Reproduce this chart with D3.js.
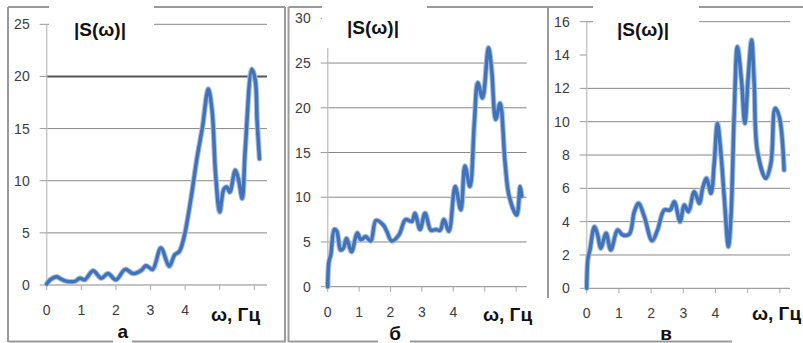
<!DOCTYPE html>
<html>
<head>
<meta charset="utf-8">
<script src="https://cdn.jsdelivr.net/npm/d3@7"></script>
<style>
  body { margin: 0; background: #fff; }
  svg { display: block; }
</style>
</head>
<body>
<svg id="chart" width="803" height="343"></svg>
<script>
// spectrum |S(w)| for three cases
const freqA = [0, 0.1, 0.29, 0.38, 0.53, 0.81, 0.96, 1.1, 1.34, 1.58, 1.77, 2.0, 2.27, 2.49, 2.73, 2.87, 3.06, 3.3, 3.54, 3.7, 3.83, 3.97, 4.16, 4.35, 4.5, 4.67, 4.78, 4.88, 5.0, 5.12, 5.2, 5.29, 5.45, 5.55, 5.65, 5.74, 5.93, 6.03, 6.08, 6.15];
const ampA  = [0.1, 0.5, 0.8, 0.64, 0.4, 0.35, 0.64, 0.5, 1.37, 0.64, 1.1, 0.5, 1.5, 1.1, 1.4, 1.85, 1.5, 3.55, 1.8, 2.9, 3.2, 4.6, 8.1, 12.3, 15.1, 18.8, 16.7, 10.7, 7.0, 9.2, 9.4, 8.9, 11.0, 10.0, 8.3, 13.1, 20.7, 19.6, 15.8, 12.1];

const freqB = [0, 0.04, 0.1, 0.21, 0.29, 0.41, 0.5, 0.6, 0.76, 0.94, 1.06, 1.21, 1.37, 1.54, 1.77, 1.88, 2.04, 2.27, 2.48, 2.68, 2.78, 2.94, 3.1, 3.29, 3.44, 3.58, 3.7, 3.86, 4.06, 4.24, 4.37, 4.53, 4.67, 4.78, 4.93, 5.12, 5.22, 5.35, 5.49, 5.65, 5.78, 6.02, 6.13, 6.18];
const ampB  = [0, 2.8, 3.6, 6.4, 6.2, 4.1, 4.3, 5.4, 3.9, 6.0, 5.25, 5.6, 5.1, 7.4, 6.9, 6.2, 5.1, 5.8, 7.5, 7.3, 8.2, 6.4, 8.2, 6.3, 6.4, 6.3, 7.5, 6.2, 11.2, 8.6, 13.5, 11.2, 18.3, 22.8, 21.1, 26.7, 24.3, 18.7, 20.5, 13.8, 10.1, 8.0, 11.2, 10.1];

const freqV = [0, 0.04, 0.1, 0.24, 0.34, 0.44, 0.6, 0.75, 0.96, 1.12, 1.32, 1.48, 1.61, 1.79, 2.03, 2.2, 2.41, 2.59, 2.72, 2.9, 3.03, 3.16, 3.34, 3.5, 3.6, 3.72, 3.86, 3.96, 4.06, 4.17, 4.27, 4.4, 4.48, 4.58, 4.68, 4.81, 4.91, 5.02, 5.12, 5.2, 5.3, 5.56, 5.72, 5.85, 5.98, 6.13];
const ampV  = [0, 1.8, 2.3, 3.7, 3.2, 2.4, 3.3, 2.3, 3.5, 3.2, 3.25, 4.6, 5.1, 4.3, 2.85, 3.5, 4.7, 4.7, 5.2, 4.0, 5.0, 4.6, 5.8, 5.1, 6.0, 6.6, 5.7, 7.5, 9.9, 8.05, 5.5, 2.5, 4.3, 10.4, 14.5, 12.4, 9.9, 12.8, 14.9, 12.4, 8.25, 6.6, 7.5, 10.8, 10.3, 7.1];

const yTicksA = [0, 5, 10, 15, 20, 25];
const yTicksB = [0, 5, 10, 15, 20, 25, 30];
const yTicksV = [0, 2, 4, 6, 8, 10, 12, 14, 16];
const gridA = [5, 10, 15, 20, 25];
const gridB = [5, 10, 15, 20, 25];
const gridV = [2, 4, 6, 8, 10, 12, 16];
const xTicks = [0, 1, 2, 3, 4, 5, 6];
const xTickLabels = [0, 1, 2, 3, 4];
const panelLetters = ['а', 'б', 'в'];
const titleText = '|S(ω)|';
const axisName = 'ω, Гц';

const svg = d3.select('#chart');
const LINE = '#4273b8';
const GRID = '#888';
const FRAME = '#9a9a9a';

// picture frames around each sub-chart (broken where the caption boxes sit)
const frames = [
  [8, 7, 49, 7], [154, 7, 285, 7], [8, 7, 8, 342], [8, 341.5, 113, 341.5], [132, 341.5, 285, 341.5], [285, 7, 285, 342],
  [288.5, 7, 322, 7], [427, 7, 548, 7], [288.5, 7, 288.5, 342], [288.5, 341.5, 378, 341.5], [410, 341.5, 552, 341.5],
  [548, 7, 593, 7], [699, 7, 803, 7], [548, 7, 548, 298], [552, 341.5, 732, 341.5]
];
svg.selectAll('line.frame').data(frames).enter().append('line')
  .attr('class', 'frame')
  .attr('x1', d => d[0]).attr('y1', d => d[1]).attr('x2', d => d[2]).attr('y2', d => d[3])
  .attr('stroke', FRAME).attr('stroke-width', 2);

const panels = [
  { freq: freqA, amp: ampA, yTicks: yTicksA, grid: gridA, yMax: 25, letter: panelLetters[0],
    left: 46.7, unit: 34.6, right: 267, top: 24.3, bottom: 285, axisTop: 24.3, dark: 20,
    box: [49, 154], titleX: 74, titleY: 36, xLabY: 315, nameX: 211, nameY: 321, letterX: 122.7, letterY: 338 },
  { freq: freqB, amp: ampB, yTicks: yTicksB, grid: gridB, yMax: 30, letter: panelLetters[1],
    left: 327.7, unit: 31.4, right: 526.7, top: 18.3, bottom: 286.7, axisTop: 48, dark: null,
    box: [322, 427], titleX: 347, titleY: 34, xLabY: 316.5, nameX: 483, nameY: 321, letterX: 395, letterY: 340 },
  { freq: freqV, amp: ampV, yTicks: yTicksV, grid: gridV, yMax: 16, letter: panelLetters[2],
    left: 586.7, unit: 32.2, right: 790, top: 21.7, bottom: 288.3, axisTop: 21.7, dark: null,
    box: [593, 699], titleX: 617, titleY: 36, xLabY: 318, nameX: 752, nameY: 320, letterX: 666, letterY: 340 }
];

panels.forEach(p => {
  const x = d3.scaleLinear().domain([0, 6]).range([p.left, p.left + 6 * p.unit]);
  const y = d3.scaleLinear().domain([0, p.yMax]).range([p.bottom, p.top]);
  const g = svg.append('g');

  // horizontal grid
  g.selectAll('line.grid').data(p.grid).enter().append('line')
    .attr('x1', p.left).attr('x2', p.right)
    .attr('y1', d => y(d)).attr('y2', d => y(d))
    .attr('stroke', d => d === p.dark ? '#555' : GRID)
    .attr('stroke-width', d => d === p.dark ? 2 : 1);

  // value axis: light line, short ticks on the left, labels
  g.append('line')
    .attr('x1', p.left).attr('x2', p.left).attr('y1', p.axisTop).attr('y2', p.bottom)
    .attr('stroke', '#c8c8c8').attr('stroke-width', 1.5);
  g.selectAll('line.ytick').data(p.yTicks).enter().append('line')
    .attr('x1', p.left - 7).attr('x2', p.left)
    .attr('y1', d => y(d)).attr('y2', d => y(d))
    .attr('stroke', '#999').attr('stroke-width', 1);
  g.selectAll('text.ylab').data(p.yTicks).enter().append('text')
    .attr('x', p.left - 17).attr('y', d => y(d) + 5)
    .attr('text-anchor', 'end')
    .attr('font-family', 'Liberation Sans, Arial, sans-serif').attr('font-size', 14)
    .attr('fill', '#3c3c3c')
    .text(d => d);

  // category axis
  g.append('line')
    .attr('x1', p.left).attr('x2', p.right).attr('y1', y(0)).attr('y2', y(0))
    .attr('stroke', GRID).attr('stroke-width', 1);
  g.selectAll('line.xtick').data(xTicks).enter().append('line')
    .attr('x1', d => x(d)).attr('x2', d => x(d))
    .attr('y1', y(0)).attr('y2', y(0) + 5)
    .attr('stroke', '#aaa').attr('stroke-width', 1);
  g.selectAll('text.xlab').data(xTickLabels).enter().append('text')
    .attr('x', d => x(d)).attr('y', p.xLabY)
    .attr('text-anchor', 'middle')
    .attr('font-family', 'Liberation Sans, Arial, sans-serif').attr('font-size', 14)
    .attr('fill', '#3c3c3c')
    .text(d => d);

  // spectrum curve
  const pts = p.freq.map((f, i) => [f, p.amp[i]]);
  const line = d3.line().x(d => x(d[0])).y(d => y(d[1])).curve(d3.curveCatmullRom.alpha(0.5));
  g.append('path').datum(pts).attr('d', line)
    .attr('fill', 'none').attr('stroke', '#a8c0e2').attr('stroke-width', 5.5)
    .attr('stroke-linejoin', 'round').attr('stroke-linecap', 'round');
  g.append('path').datum(pts).attr('d', line)
    .attr('fill', 'none').attr('stroke', LINE).attr('stroke-width', 3.5)
    .attr('stroke-linejoin', 'round').attr('stroke-linecap', 'round');

  // caption box with |S(w)|
  g.append('rect')
    .attr('x', p.box[0]).attr('y', 0).attr('width', p.box[1] - p.box[0]).attr('height', 44)
    .attr('fill', '#fff');
  g.append('text')
    .attr('x', p.titleX).attr('y', p.titleY)
    .attr('font-family', 'Liberation Sans, Arial, sans-serif').attr('font-size', 19).attr('font-weight', 'bold')
    .attr('fill', '#111')
    .text(titleText);

  // axis name and panel letter
  g.append('rect')
    .attr('x', p.nameX - 4).attr('y', 298).attr('width', 60).attr('height', 28).attr('fill', '#fff');
  g.append('text')
    .attr('x', p.nameX).attr('y', p.nameY)
    .attr('font-family', 'Liberation Sans, Arial, sans-serif').attr('font-size', 19).attr('font-weight', 'bold')
    .attr('fill', '#111')
    .text(axisName);
  g.append('text')
    .attr('x', p.letterX).attr('y', p.letterY)
    .attr('text-anchor', 'middle')
    .attr('font-family', 'Liberation Sans, Arial, sans-serif').attr('font-size', 19).attr('font-weight', 'bold')
    .attr('fill', '#111')
    .text(p.letter);
});
</script>
</body>
</html>
